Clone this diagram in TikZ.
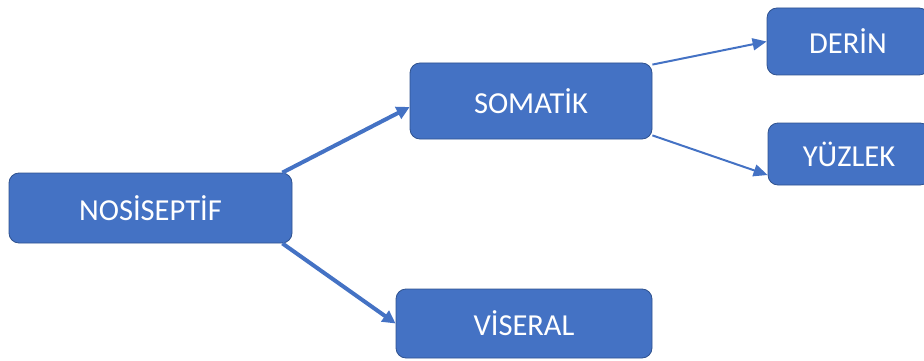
\documentclass[tikz,border=0pt]{standalone}
\usepackage{fontspec}
\setmainfont{Carlito}
\usetikzlibrary{arrows.meta}

\definecolor{ofisMavi}{HTML}{4472C4}
\definecolor{ofisKenar}{HTML}{2F528F}

\begin{document}
\begin{tikzpicture} [
    x=1pt, y=-1pt,
    block/.style    = { rectangle, draw=ofisKenar, line width=0.8pt,
                        fill=ofisMavi, text=white, rounded corners=10pt,
                        inner sep=0pt,
                        font=\fontsize{30.5}{36}\selectfont },
    line/.style     = { draw=ofisMavi, line width=4pt,
                        -{Triangle[length=13pt,width=13pt]} },
    thinline/.style = { draw=ofisMavi, line width=2pt,
                        -{Triangle[length=14pt,width=12pt]} },
  ]
\useasboundingbox (0,0) rectangle (924,361);

\node (nos) [block,minimum width=283pt,minimum height=70pt] at (150.5,208) {NOSİSEPTİF};
\node (som) [block,minimum width=242pt,minimum height=76pt] at (531,101) {SOMATİK};
\node (vis) [block,minimum width=256pt,minimum height=69pt] at (524,323.5) {VİSERAL};
\node (derin) [block,minimum width=162pt,minimum height=67pt] at (848,41.5) {DERİN};
\node (yuzlek) [block,minimum width=162pt,minimum height=62pt] at (849,154) {YÜZLEK};

% oklar
\path[line] ([xshift=-10pt]nos.north east) -- ([yshift=-6pt]som.west);
\path[line] ([xshift=-10pt]nos.south east) -- (vis.west);
\path[thinline] ([yshift=-2pt]som.north east) -- (derin.west);
\path[thinline] ([yshift=4pt]som.south east) -- ([yshift=-21pt]yuzlek.west);

\end{tikzpicture}
\end{document}
